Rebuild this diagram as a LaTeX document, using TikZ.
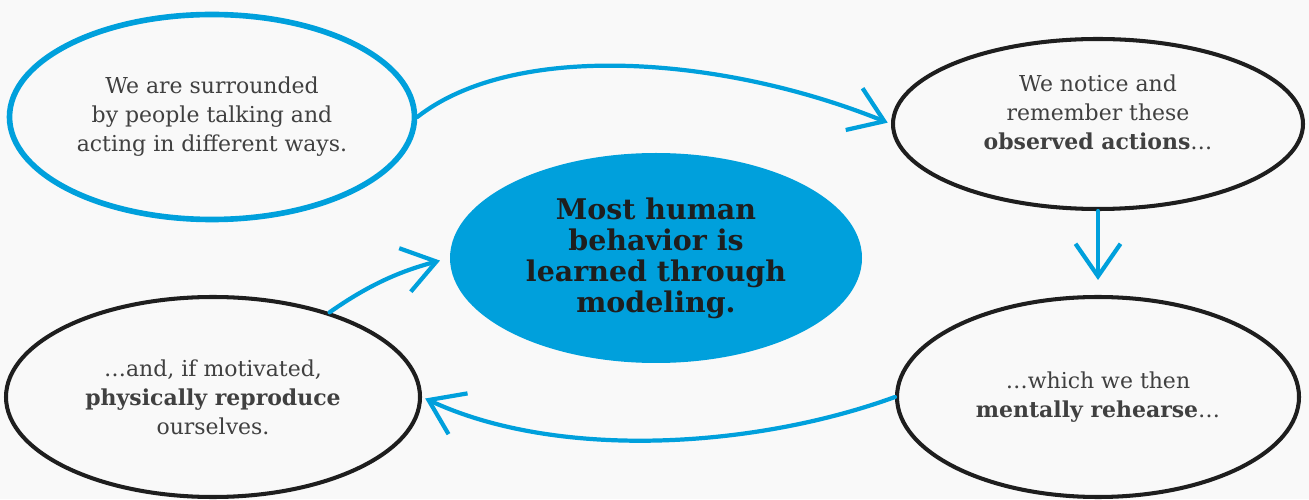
\documentclass[tikz,border=0pt]{standalone}
\usepackage{fontspec}
\setmainfont{DejaVu Serif}
\usetikzlibrary{shapes.geometric,arrows.meta}
\definecolor{modelblue}{RGB}{0,160,220}
\definecolor{ink}{RGB}{30,30,30}
\definecolor{paper}{RGB}{249,249,249}

\begin{document}
\begin{tikzpicture}[font=\fontsize{12.5}{16.5}\selectfont, line join=round, line cap=round, >={Straight Barb[length=6.5mm,width=9mm]}]
	\tikzset{
	bubble/.style={ellipse, draw=ink, line width=2.3pt, inner sep=0pt, align=center, text=ink!85},
	bluebubble/.style={bubble, draw=modelblue, line width=3.2pt},
	core/.style={ellipse, fill=modelblue, inner sep=0pt, align=center, text=ink, font=\fontsize{16.2}{17.6}\selectfont\bfseries},
	flow/.style={->, draw=modelblue, line width=2.4pt, shorten >=2pt}
	}
	\fill[paper] (0,0) rectangle (26.18,9.98);
	% the four steps round the core
	\node[bluebubble, minimum width=8.1cm, minimum height=4.1cm] (surround) at (4.24,7.64) {We are surrounded\\by people talking and\\acting in different ways.};
	\node[bubble, minimum width=8.2cm, minimum height=3.4cm] (notice) at (21.96,7.5) {};
	\node[align=center, text=ink!85] (noticetext) at ([yshift=2.4mm]notice.center) {We notice and\\remember these\\\textbf{observed actions}\dots};
	\node[bubble, minimum width=8.04cm, minimum height=4cm] (rehearse) at (21.96,2.04) {\dots which we then\\\textbf{mentally rehearse}\dots};
	\node[bubble, minimum width=8.28cm, minimum height=4cm] (reproduce) at (4.26,2.04) {\dots and, if motivated,\\\textbf{physically reproduce}\\ourselves.};
	\node[core, minimum width=8.24cm, minimum height=4.2cm] (model) at (13.12,4.82) {Most human\\behavior is\\learned through\\modeling.};
	% connectors
	\draw[flow] (surround.east) .. controls +(38:2.5cm) and +(158:3.6cm) .. (notice.west);
	\draw[flow, shorten >=0.3cm] (notice.south) -- (rehearse.north);
	\draw[flow] (rehearse.west) .. controls +(200:3cm) and +(-25:3cm) .. (reproduce.east);
	\draw[flow, shorten >=0.2cm] (reproduce.36) .. controls +(35:1cm) and +(195:1cm) .. (model.west);
\end{tikzpicture}
\end{document}
